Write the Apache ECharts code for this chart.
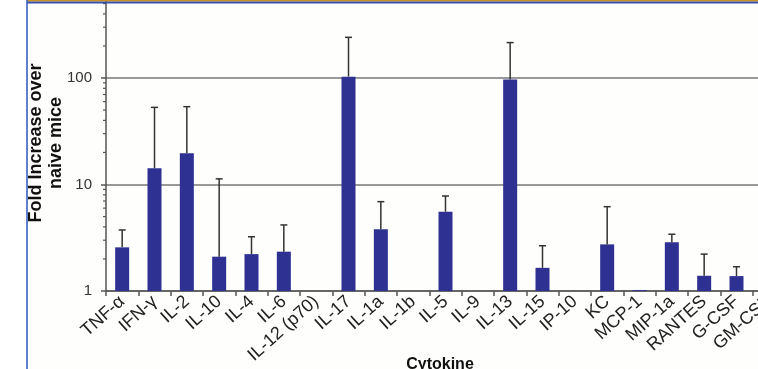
<!DOCTYPE html>
<html><head><meta charset="utf-8">
<script src="https://cdn.jsdelivr.net/npm/echarts@6/dist/echarts.min.js"></script>
<style>html,body{margin:0;padding:0;background:#fff}#c{width:758px;height:369px}</style>
</head><body><div id="c"></div>
<script>
const categories = ['TNF-α','IFN-γ','IL-2','IL-10','IL-4','IL-6','IL-12 (p70)','IL-17','IL-1a','IL-1b','IL-5','IL-9','IL-13','IL-15','IP-10','KC','MCP-1','MIP-1a','RANTES','G-CSF','GM-CSF'];
const foldIncrease = [2.57,14.2,19.6,2.1,2.22,2.34,null,103,3.8,null,5.55,null,97,1.65,null,2.74,1.02,2.87,1.39,1.38,null];
const errorUpper = [3.74,53,53.8,11.3,3.23,4.17,null,241,6.9,null,7.8,null,215,2.66,null,6.19,null,3.41,2.22,1.69,null];
const yMin = 1, yMax = 1000;
const yMinorTicks = [2,3,4,5,6,7,8,9,20,30,40,50,60,70,80,90,200,300,400,500,600,700,800,900];

const FONT = "'Liberation Sans', Arial, sans-serif";
const chart = echarts.init(document.getElementById('c'), null, {renderer:'canvas'});

const errData = errorUpper.map((e,i)=>[i, e, foldIncrease[i]]);

chart.setOption({
  backgroundColor: '#fefefd',
  animation: false,
  grid: { left: 106, width: 679, top: -28.5, height: 319.5, containLabel: false, outerBoundsMode: 'none' },
  xAxis: {
    type: 'category',
    data: categories,
    axisLine: { lineStyle: { color: '#555', width: 1.5 } },
    axisTick: { show: true, length: 5, alignWithLabel: false, lineStyle: { color: '#555', width: 1.5 } },
    axisLabel: { interval: 0, rotate: 42, fontSize: 18, color: '#222', fontFamily: FONT, margin: 8 }
  },
  yAxis: {
    type: 'log', logBase: 10, min: yMin, max: yMax,
    axisLine: { show: true, lineStyle: { color: '#555', width: 1.5 } },
    axisTick: { show: true, length: 5, lineStyle: { color: '#555', width: 1.5 } },
    axisLabel: { fontSize: 15, color: '#333', fontFamily: FONT, margin: 14, formatter: v => String(v) },
    splitLine: { show: true, lineStyle: { color: '#999', width: 2 } },
    minorTick: { show: false }
  },
  series: [
    {
      type: 'bar', data: foldIncrease, barWidth: 14,
      itemStyle: { color: '#2e3192' }, z: 3
    },
    {
      type: 'custom', data: errData, z: 4,
      renderItem: function(params, api){
        const i = api.value(0), e = api.value(1), v = api.value(2);
        if (e == null || isNaN(e) || v == null || isNaN(v)) return null;
        const top = api.coord([i, e]);
        const base = api.coord([i, v]);
        const st = { stroke: '#333', lineWidth: 1.5 };
        return { type: 'group', children: [
          { type: 'line', shape: { x1: top[0], y1: top[1], x2: base[0], y2: base[1] }, style: st },
          { type: 'line', shape: { x1: top[0]-3.5, y1: top[1], x2: top[0]+3.5, y2: top[1] }, style: st }
        ]};
      }
    },
    {
      type: 'custom', data: yMinorTicks.map(v=>[0, v]), z: 4,
      renderItem: function(params, api){
        const x = params.coordSys.x;
        const y = api.coord([0, api.value(1)])[1];
        return { type: 'line', shape: { x1: x-3, y1: y, x2: x, y2: y }, style: { stroke: '#555', lineWidth: 1.2 } };
      }
    }
  ],
  graphic: [
    { type: 'text', x: 46.5, y: 143, rotation: Math.PI/2, z: 50,
      style: { text: 'Fold Increase over\nnaive mice', align: 'center', verticalAlign: 'middle',
        fontSize: 18, fontWeight: 'bold', fontFamily: FONT, fill: '#111', lineHeight: 20 } },
    { type: 'text', x: 440, y: 357, z: 50,
      style: { text: 'Cytokine', align: 'center', verticalAlign: 'top',
        fontSize: 16, fontWeight: 'bold', fontFamily: FONT, fill: '#111' } },
    { type: 'rect', shape: { x: 0, y: 0, width: 26, height: 369 }, style: { fill: '#ffffff' }, z: 100 },
    { type: 'rect', shape: { x: 27, y: 0, width: 731, height: 1.6 }, style: { fill: '#c8921e' }, z: 100 },
    { type: 'rect', shape: { x: 27, y: 1.6, width: 731, height: 1.8 }, style: { fill: '#3a4fa8' }, z: 100 },
    { type: 'rect', shape: { x: 26.2, y: 0, width: 1.6, height: 369 }, style: { fill: '#3a5fc0' }, z: 100 }
  ]
});
</script></body></html>
